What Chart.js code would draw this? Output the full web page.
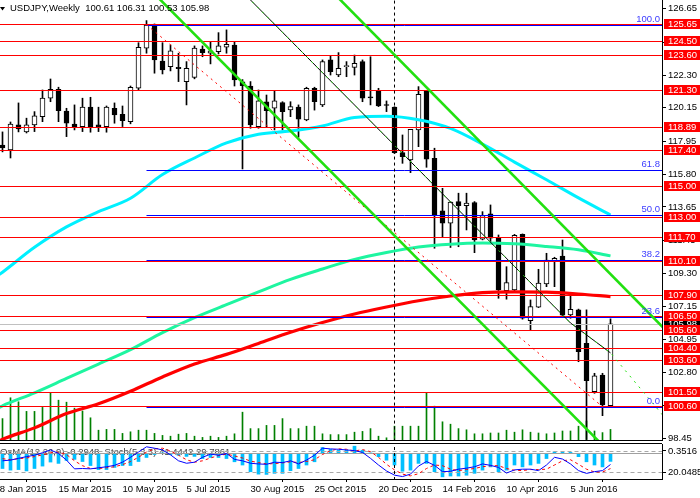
<!DOCTYPE html>
<html>
<head>
<meta charset="utf-8">
<title>USDJPY Weekly</title>
<script src="https://cdn.jsdelivr.net/npm/chart.js@4.4.1/dist/chart.umd.min.js"></script>
<style>
  html, body { margin: 0; padding: 0; background: #fff; }
  #wrap { position: relative; width: 700px; height: 498px; overflow: hidden; background: #fff; }
  canvas { position: absolute; left: 0; }
  #main { top: 0; }
  #sub { top: 441px; }
</style>
</head>
<body>
<div id="wrap">
  <canvas id="main" width="700" height="441"></canvas>
  <canvas id="sub" width="700" height="57"></canvas>
</div>
<script>
const symbol = "USDJPY";
const period = "Weekly";

// weekly candles, 25 Jan 2015 .. 10 Jul 2016
const opens = [117.71,117.39,119.03,118.57,119.03,119.57,120.78,121.36,119.94,119.09,
  118.92,120.19,119.03,118.92,120.12,119.73,119.24,121.43,124.06,125.58,
  123.22,122.85,122.81,121.87,122.15,124.00,123.73,123.83,124.12,124.27,
  121.85,121.58,118.92,120.55,120.12,120.49,120.01,120.19,119.36,121.43,
  120.34,123.29,122.30,122.85,122.80,123.18,120.85,121.28,120.34,120.19,
  117.21,116.73,118.70,121.28,116.84,113.39,112.58,114.00,113.73,113.94,
  111.53,113.19,111.60,108.16,108.21,111.86,106.19,107.07,108.60,110.12,
  110.43,106.57,106.90,104.71,101.54,102.63,100.61];
const highs = [118.57,119.22,120.47,119.47,119.90,121.32,122.04,121.50,120.12,120.34,
  120.78,120.84,120.19,120.27,120.47,120.27,121.58,124.42,125.87,125.65,
  124.42,124.27,123.73,123.18,124.21,124.21,124.49,125.08,125.26,124.49,
  122.00,121.87,121.32,120.99,121.28,120.55,120.55,120.34,121.50,121.50,
  123.29,123.55,123.77,123.18,123.61,123.29,123.50,121.43,120.60,120.22,
  118.37,118.74,121.54,121.30,117.50,114.87,114.00,114.55,114.55,114.00,
  113.34,113.78,111.81,109.73,111.85,111.88,107.55,109.56,110.61,110.35,
  111.48,107.88,106.95,106.90,102.74,102.74,106.31];
const lows = [117.26,116.86,118.57,118.50,118.59,119.24,120.55,119.24,118.26,118.70,
  118.59,118.55,118.59,118.55,119.14,118.92,119.10,121.32,123.73,122.42,
  122.37,122.57,121.87,120.34,122.05,123.50,123.03,123.68,123.73,121.58,
  116.14,118.81,118.81,118.87,118.70,118.70,119.57,118.22,119.30,120.00,
  120.23,122.30,122.19,122.19,122.30,120.55,120.34,120.23,119.90,117.15,
  116.51,115.90,117.60,116.25,110.94,111.70,110.99,111.04,112.14,110.65,
  111.49,111.27,107.66,107.60,108.15,106.29,105.54,107.05,108.42,108.42,
  106.45,106.35,103.50,98.40,101.43,99.96,100.53];
const closes = [117.52,119.09,118.76,119.03,119.62,120.78,121.36,119.96,119.14,118.92,
  120.19,118.92,118.89,120.19,119.68,119.31,121.50,124.12,125.58,123.29,
  122.63,123.88,122.72,122.74,124.06,123.77,123.88,124.21,124.32,121.98,
  121.60,119.03,120.60,119.96,120.60,119.90,120.23,119.40,121.43,120.55,
  123.18,122.52,122.74,122.90,123.07,120.78,120.80,120.27,120.30,117.21,
  116.95,118.74,121.04,116.78,113.12,112.58,113.96,113.73,113.90,111.49,
  113.08,111.60,108.21,108.69,111.79,106.35,107.11,108.65,110.17,110.28,
  106.55,106.94,104.16,102.26,102.57,100.67,105.98];
const volumes = [56,108,98,74,74,84,120,102,97,82,
  75,58,27,29,29,19,23,27,27,19,
  14,12,17,19,12,9,12,9,12,18,
  72,31,31,39,39,56,31,31,37,37,
  18,16,16,16,22,24,31,12,8,37,
  37,37,37,120,87,48,42,31,28,18,
  18,20,20,27,22,28,22,20,18,20,
  25,25,37,50,25,21,29];

// moving averages, read every 4 weeks
const maIdx = [-1,0,4,8,12,16,20,24,28,32,36,40,44,48,52,56,60,64,68,72,76];
const maCyan = [109.0,109.37,111.00,112.34,113.34,114.22,115.77,116.86,117.85,118.42,118.63,
  118.96,119.52,119.60,119.37,118.80,117.77,116.59,115.43,114.24,113.12];
const maSpring = [100.35,100.61,101.46,102.40,103.34,104.29,105.41,106.39,107.24,108.08,108.90,
  109.58,110.21,110.66,111.02,111.21,111.28,111.23,111.06,110.84,110.44];
const maRed = [98.15,98.41,99.16,100.10,100.74,101.56,102.50,103.35,103.98,104.70,105.43,
  106.07,106.63,107.09,107.50,107.81,108.03,108.08,108.06,107.94,107.77];

// oscillators
const osma = [-0.56,-0.62,-0.60,-0.65,-0.56,-0.47,-0.32,-0.37,-0.26,-0.22,
  -0.30,-0.45,-0.60,-0.60,-0.52,-0.45,-0.45,-0.30,-0.15,-0.04,
  0.02,-0.04,-0.07,-0.11,-0.11,-0.19,-0.15,-0.15,-0.19,-0.31,
  -0.43,-0.68,-0.77,-0.78,-0.74,-0.74,-0.64,-0.56,-0.43,-0.31,
  0.22,0.15,0.12,0.12,0.27,0.12,0.02,-0.12,-0.25,-0.43,
  -0.66,-0.62,-0.37,-0.37,-0.68,-0.87,-0.84,-0.84,-0.81,-0.74,
  -0.62,-0.50,-0.68,-0.62,-0.43,-0.50,-0.43,-0.37,-0.19,0.06,
  0.06,0.04,-0.12,-0.31,-0.43,-0.50,-0.2948];
const stochMain = [52,54,59,64,68,75,83,73,54,29,30,29,32,35,39,48,62,77,92,88,
  83,69,52,45,48,62,71,68,73,56,52,45,43,42,48,47,52,43,54,68,
  88,86,85,83,81,76,59,40,23,11,7,14,37,50,39,21,22,28,31,35,
  43,39,33,17,26,28,28,24,40,62,57,43,24,16,21,24,41.4442];
const stochSignal = [58,55,58,60,64,69,75,77,70,52,38,30,30,32,35,41,50,62,77,86,
  88,80,68,55,48,52,60,67,71,66,60,51,47,43,44,46,49,47,50,55,
  70,81,86,85,80,84,78,62,42,26,14,9,15,30,40,38,28,24,27,30,
  35,38,38,30,25,24,27,27,28,40,52,55,42,28,20,20,29.7861];

// horizontal levels and fibonacci
const levels = [125.65,124.50,123.60,121.30,118.89,117.40,115.00,113.00,111.70,110.10,
  107.90,106.50,105.60,104.40,103.60,101.50,100.60];
const fibText = ["100.0","61.8","50.0","38.2","23.6","0.0"];
const fibPrices = [125.60,116.07,113.12,110.17,106.46,100.55];
const fibFrom = 18, fibTo = 75;

// trend lines (week index, price)
const channelLow = [{x:18.75,y:127.75},{x:75.5,y:97.77}];
const channelHigh = [{x:41.25,y:127.75},{x:83.25,y:105.38}];
const midLine = [{x:30,y:127.75},{x:71,y:106.04},{x:76,y:104.08}];
const midRay = [{x:30,y:127.75},{x:71,y:106.04},{x:76,y:104.08},{x:83,y:99.70}];
const markWeek = 49;

// axes
const yTicks = [126.65,124.45,122.30,120.15,117.95,115.80,113.65,111.45,109.30,107.15,104.95,102.80,100.65,98.45];
const tickIdx = [-1,7,15,23,31,39,47,55,63,71];
const tickLabels = ["18 Jan 2015","15 Mar 2015","10 May 2015","5 Jul 2015","30 Aug 2015",
  "25 Oct 2015","20 Dec 2015","14 Feb 2016","10 Apr 2016","5 Jun 2016"];
const subTickVals = [80, 20];
const subTickText = ["0.3516", "20.0485"];

const FONT = "'Liberation Sans', Arial, sans-serif";
const X_MIN = -0.3125, X_MAX = 82.4375;
const last = closes.length - 1;
const idx = closes.map((_, i) => i);

const lineBase = { type: 'line', pointRadius: 0, fill: false, clip: 0, borderWidth: 1 };
// horizontal line; snapY lets the plugin put it on a whole pixel row
const hline = (y, from, color, order, extra) =>
  Object.assign({}, lineBase, { data: [{x: from, y: y}, {x: 90, y: y}], borderColor: color, order: order, snapY: y }, extra || {});

const crispLines = {
  id: 'crispLines',
  beforeDatasetDraw(chart, args) {
    const ds = chart.data.datasets[args.index];
    if (ds.snapY === undefined) return;
    const py = chart.scales[ds.yAxisID || 'y'].getPixelForValue(ds.snapY);
    chart.ctx.save();
    chart.ctx.translate(0, Math.round(py) + 0.5 - py);
  },
  afterDatasetDraw(chart, args) {
    const ds = chart.data.datasets[args.index];
    if (ds.snapY === undefined) return;
    chart.ctx.restore();
  }
};

const mainDatasets = [
  Object.assign({}, lineBase, { data: channelLow, borderColor: '#22e010', borderWidth: 2.6, order: 0 }),
  Object.assign({}, lineBase, { data: channelHigh, borderColor: '#22e010', borderWidth: 2.6, order: 0 }),
  Object.assign({}, lineBase, { data: midRay, borderColor: '#22e010', borderDash: [2, 5], order: 0.5 }),
  Object.assign({}, lineBase, { data: midLine, borderColor: '#000', order: 1 }),
  Object.assign({}, lineBase, { data: [{x: fibFrom, y: fibPrices[0]}, {x: fibTo, y: fibPrices[fibPrices.length - 1]}],
    borderColor: '#ff0000', borderDash: [2, 4], order: 1 }),
  Object.assign({}, lineBase, { data: [{x: markWeek, y: 90}, {x: markWeek, y: 130}], borderColor: '#000', borderDash: [3, 3], order: 1 }),
  ...levels.map(l => hline(l, -2, '#ff0000', 2)),
  ...fibPrices.map(p => hline(p, fibFrom, '#0000ff', 3)),
  hline(closes[last], -2, '#c0c0c0', 4),
  Object.assign({}, lineBase, { data: maIdx.map((v, k) => ({x: v, y: maCyan[k]})), borderColor: '#00f0ff', borderWidth: 3, cubicInterpolationMode: 'monotone', order: 5 }),
  Object.assign({}, lineBase, { data: maIdx.map((v, k) => ({x: v, y: maSpring[k]})), borderColor: '#1ef5a0', borderWidth: 3, cubicInterpolationMode: 'monotone', order: 5 }),
  Object.assign({}, lineBase, { data: maIdx.map((v, k) => ({x: v, y: maRed[k]})), borderColor: '#ff0000', borderWidth: 3.2, cubicInterpolationMode: 'monotone', order: 5 }),
  {
    type: 'bar', data: idx.map(i => ({x: i, y: [opens[i], closes[i]]})),
    backgroundColor: idx.map(i => closes[i] >= opens[i] ? '#ffffff' : '#000000'),
    borderColor: '#000', borderWidth: 1, borderSkipped: false,
    barThickness: 5, minBarLength: 1, grouped: false, order: 6
  },
  {
    type: 'bar', data: idx.map(i => ({x: i, y: [lows[i], highs[i]]})),
    backgroundColor: '#000', barThickness: 1, grouped: false, order: 7
  },
  {
    type: 'bar', yAxisID: 'yv', data: idx.map(i => ({x: i, y: volumes[i]})),
    backgroundColor: '#008000', barThickness: 1, grouped: false, order: 8
  }
];

const mainOverlay = {
  id: 'mainOverlay',
  afterDraw(chart) {
    const ctx = chart.ctx;
    const y = chart.scales.y;
    ctx.save();
    ctx.fillStyle = '#000';
    ctx.fillRect(0, 440, 662, 1);
    ctx.font = '9.5px ' + FONT;
    ctx.fillStyle = '#3c3cff';
    ctx.textAlign = 'right';
    ctx.textBaseline = 'bottom';
    fibPrices.forEach((p, k) => ctx.fillText(fibText[k], 660, Math.round(y.getPixelForValue(p)) - 1));

    ctx.textAlign = 'left';
    ctx.textBaseline = 'middle';
    const cy = Math.round(y.getPixelForValue(closes[last]));
    ctx.fillStyle = '#000';
    ctx.fillRect(664, cy - 5, 36, 10);
    ctx.fillStyle = '#fff';
    ctx.fillText(closes[last].toFixed(2), 668, cy + 0.5);
    levels.forEach(l => {
      const ly = Math.round(y.getPixelForValue(l));
      ctx.fillStyle = '#ff0000';
      ctx.fillRect(664, ly - 5, 36, 10);
      ctx.fillStyle = '#fff';
      ctx.fillText(l.toFixed(2), 668, ly + 0.5);
    });

    ctx.fillStyle = '#000';
    ctx.beginPath();
    ctx.moveTo(0, 7); ctx.lineTo(5, 7); ctx.lineTo(2.5, 10.5); ctx.closePath();
    ctx.fill();
    const ohlc = [opens[last], highs[last], lows[last], closes[last]].map(v => v.toFixed(2)).join(' ');
    ctx.fillText(symbol + ',' + period + '  ' + ohlc, 10, 8);
    ctx.restore();
  }
};

new Chart(document.getElementById('main'), {
  type: 'bar',
  data: { datasets: mainDatasets },
  plugins: [crispLines, mainOverlay],
  options: {
    responsive: false, animation: false, devicePixelRatio: 1, events: [],
    layout: { padding: 0 },
    plugins: { legend: { display: false }, tooltip: { enabled: false } },
    scales: {
      x: { type: 'linear', min: X_MIN, max: X_MAX, offset: false, display: false },
      y: {
        position: 'right', min: 98.30, max: 127.22,
        afterBuildTicks: s => { s.ticks = yTicks.map(v => ({ value: v })); },
        afterFit: s => { s.width = 38; s.paddingTop = 0; s.paddingBottom = 0; },
        ticks: { autoSkip: false, padding: 2, color: '#000', font: { family: FONT, size: 9.5 },
          callback: v => Number(v).toFixed(2) },
        grid: { drawOnChartArea: false, drawTicks: true, tickLength: 4, color: '#000' },
        border: { display: true, color: '#000' }
      },
      yv: { display: false, min: 0, max: 1102 }
    }
  }
});

const subDatasets = [
  Object.assign({}, lineBase, { yAxisID: 'ys', data: [{x: markWeek, y: -20}, {x: markWeek, y: 120}], borderColor: '#000', borderDash: [3, 3], order: 0 }),
  Object.assign({}, lineBase, { yAxisID: 'ys', data: idx.map(i => ({x: i, y: stochMain[i]})), borderColor: '#0000ff', order: 1 }),
  Object.assign({}, lineBase, { yAxisID: 'ys', data: idx.map(i => ({x: i, y: stochSignal[i]})), borderColor: '#ff0000', borderDash: [3, 3], order: 2 }),
  hline(80, -2, '#a8a8a8', 4, { yAxisID: 'ys', borderDash: [4, 3] }),
  hline(20, -2, '#a8a8a8', 4, { yAxisID: 'ys', borderDash: [4, 3] }),
  hline(0, -2, '#a0a0a0', 4, { yAxisID: 'yo' }),
  {
    type: 'bar', yAxisID: 'yo', data: idx.map(i => ({x: i, y: osma[i]})),
    backgroundColor: '#00bfff', barThickness: 3, grouped: false, order: 5
  }
];

const subOverlay = {
  id: 'subOverlay',
  beforeDatasetsDraw(chart) {
    const ctx = chart.ctx;
    ctx.save();
    ctx.fillStyle = '#000';
    ctx.fillRect(0, 2, 662, 1);
    ctx.fillStyle = '#404040';
    ctx.font = '9.5px ' + FONT;
    ctx.textAlign = 'left';
    ctx.textBaseline = 'middle';
    const txt = 'OsMA(12,26,9) ' + osma[last].toFixed(4) + '  Stoch(5,3,3) ' +
      stochMain[last].toFixed(4) + ' ' + stochSignal[last].toFixed(4);
    ctx.fillText(txt, 0, 11);
    ctx.restore();
  }
};

new Chart(document.getElementById('sub'), {
  type: 'bar',
  data: { datasets: subDatasets },
  plugins: [crispLines, subOverlay],
  options: {
    responsive: false, animation: false, devicePixelRatio: 1, events: [],
    layout: { padding: { top: 3 } },
    plugins: { legend: { display: false }, tooltip: { enabled: false } },
    scales: {
      x: {
        type: 'linear', min: X_MIN, max: X_MAX, offset: false, position: 'bottom',
        afterBuildTicks: s => { s.ticks = tickIdx.map(v => ({ value: v })); },
        afterFit: s => { s.height = 19; s.paddingLeft = 0; s.paddingRight = 0; },
        ticks: { autoSkip: false, maxRotation: 0, align: 'start', padding: 2, color: '#000',
          font: { family: FONT, size: 9.5 },
          callback: v => { const k = tickIdx.indexOf(v); return k >= 0 ? tickLabels[k] : ''; } },
        grid: { drawOnChartArea: false, drawTicks: true, tickLength: 3, color: '#000' },
        border: { display: true, color: '#000' }
      },
      ys: {
        position: 'right', min: 0, max: 100,
        afterBuildTicks: s => { s.ticks = subTickVals.map(v => ({ value: v })); },
        afterFit: s => { s.width = 38; s.paddingTop = 0; s.paddingBottom = 0; },
        ticks: { autoSkip: false, padding: 2, color: '#000', font: { family: FONT, size: 9.5 },
          callback: v => subTickText[subTickVals.indexOf(v)] },
        grid: { drawOnChartArea: false, drawTicks: true, tickLength: 4, color: '#000' },
        border: { display: true, color: '#000' }
      },
      yo: { display: false, min: -0.95, max: 0.3516 }
    }
  }
});
</script>
</body>
</html>
